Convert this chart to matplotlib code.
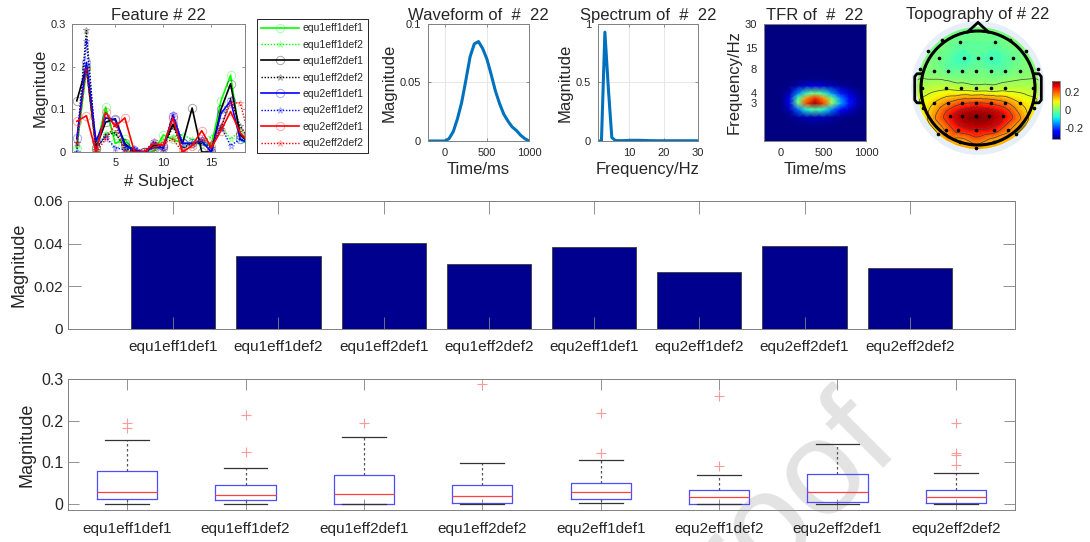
import numpy as np
import matplotlib
matplotlib.use("Agg")
import matplotlib.pyplot as plt
import matplotlib.tri as mtri
from matplotlib.patches import Circle
from matplotlib.cm import ScalarMappable
from matplotlib.colors import Normalize

plt.rcParams["font.family"] = ["Liberation Sans", "DejaVu Sans"]
plt.rcParams["text.color"] = "#262626"
plt.rcParams["axes.labelcolor"] = "#262626"
plt.rcParams["xtick.color"] = "#808080"
plt.rcParams["ytick.color"] = "#808080"
plt.rcParams["xtick.labelcolor"] = "#262626"
plt.rcParams["ytick.labelcolor"] = "#262626"
plt.rcParams["axes.edgecolor"] = "#808080"

W, H = 1090, 542

# ---- data -------------------------------------------------------------
conditions = ["equ1eff1def1", "equ1eff1def2", "equ1eff2def1", "equ1eff2def2",
              "equ2eff1def1", "equ2eff1def2", "equ2eff2def1", "equ2eff2def2"]

subjects = list(range(1, 20))
feat_e1f1d1 = [0.01, 0.195, 0.01, 0.105, 0.02, 0.03, 0.0, 0.0, 0.0, 0.04, 0.03, 0.02, 0.02, 0.02, 0.015, 0.12, 0.18, 0.03, 0.015]
feat_e1f1d2 = [0.01, 0.2, 0.005, 0.045, 0.045, 0.005, 0.0, 0.0, 0.01, 0.03, 0.035, 0.04, 0.03, 0.025, 0.035, 0.06, 0.03, 0.05, 0.02]
feat_e1f2d1 = [0.12, 0.2, 0.01, 0.07, 0.078, 0.02, 0.0, 0.0, 0.015, 0.015, 0.065, 0.02, 0.103, 0.0, 0.0, 0.1, 0.16, 0.04, 0.02]
feat_e1f2d2 = [0.02, 0.285, 0.005, 0.04, 0.045, 0.01, 0.0, 0.0, 0.02, 0.01, 0.06, 0.01, 0.02, 0.02, 0.01, 0.055, 0.125, 0.06, 0.03]
feat_e2f1d1 = [0.032, 0.21, 0.025, 0.08, 0.075, 0.015, 0.005, 0.0, 0.01, 0.01, 0.085, 0.02, 0.02, 0.025, 0.0, 0.09, 0.12, 0.03, 0.02]
feat_e2f1d2 = [0.0, 0.26, 0.01, 0.035, 0.01, 0.005, 0.01, 0.0, 0.025, 0.005, 0.09, 0.02, 0.02, 0.03, 0.01, 0.06, 0.015, 0.03, 0.02]
feat_e2f2d1 = [0.072, 0.085, 0.0, 0.093, 0.06, 0.08, 0.0, 0.0, 0.02, 0.015, 0.08, 0.0, 0.015, 0.05, 0.01, 0.05, 0.095, 0.045, 0.02]
feat_e2f2d2 = [0.02, 0.195, 0.0, 0.03, 0.065, 0.0, 0.0, 0.0, 0.01, 0.02, 0.03, 0.0, 0.015, 0.03, 0.02, 0.06, 0.115, 0.115, 0.03]

wave_t = [-200, -150, -100, -50, 0, 50, 100, 150, 200, 250, 300, 350, 400, 450, 500,
          550, 600, 650, 700, 750, 800, 850, 900, 950, 1000]
wave_v = [0, 0, 0, 0, 0, 0.002, 0.008, 0.019, 0.033, 0.052, 0.072, 0.083, 0.085, 0.079, 0.070,
          0.057, 0.043, 0.032, 0.023, 0.017, 0.012, 0.009, 0.005, 0.002, 0.0]

spec_f = list(range(1, 31))
spec_v = [0, 0, 0.93, 0.45, 0.03, 0.005, 0.003, 0.003, 0.004, 0.005, 0.006, 0.006, 0.006, 0.005, 0.004,
          0.003, 0.003, 0.002, 0.002, 0.002, 0.002, 0.002, 0.002, 0.002, 0.002, 0.002, 0.002, 0.002, 0.002, 0.002]

tfr_times = [-200, -100, 0, 100, 200, 300, 400, 500, 600, 700, 800, 900, 1000]
tfr_time_profile = [0, 0, 0.0, 0.1, 0.5, 0.86, 1.0, 0.86, 0.55, 0.3, 0.15, 0.05, 0.0]
tfr_freqs = [1, 1.5, 2, 2.5, 3, 3.5, 4, 5, 6, 8, 15, 30]
tfr_freq_profile = [0, 0, 0.05, 0.45, 0.98, 0.87, 0.5, 0.08, 0.01, 0, 0, 0]

# electrode positions (head radius = 1, nose up) and values
elec_x = [-0.64, 0.57, -0.32, 0.30,
          -0.68, -0.24, 0.0, 0.22, 0.62,
          -0.77, -0.53, -0.28, -0.03, 0.22, 0.47, 0.73,
          -0.98, -0.56, -0.29, -0.03, 0.22, 0.47, 0.96,
          -0.77, -0.53, -0.28, -0.03, 0.22, 0.47, 0.73,
          -0.50, -0.28, -0.03, 0.19, 0.44,
          -0.56, -0.35, -0.03, 0.28, 0.53,
          -0.32, 0.28,
          -1.02, 1.05, -0.96, 0.98, -0.70, 0.67, -0.03, -0.87, 0.85]
elec_y = [0.84, 0.84, 0.80, 0.80,
          0.53, 0.53, 0.53, 0.53, 0.53,
          0.30, 0.30, 0.30, 0.30, 0.30, 0.30, 0.30,
          0.0, 0.0, 0.0, 0.0, 0.0, 0.0, 0.0,
          -0.26, -0.26, -0.26, -0.26, -0.26, -0.26, -0.26,
          -0.49, -0.49, -0.49, -0.49, -0.49,
          -0.73, -0.73, -0.73, -0.73, -0.73,
          -0.94, -0.94,
          0.33, 0.33, -0.35, -0.35, -0.81, -0.81, -1.06, 0.65, 0.65]
elec_v = [0.0, 0.0, -0.02, -0.02,
          -0.01, -0.05, -0.03, -0.05, -0.02,
          0.0, -0.02, -0.02, -0.01, -0.02, -0.02, 0.0,
          0.04, 0.06, 0.05, 0.04, 0.04, 0.05, 0.04,
          0.12, 0.17, 0.21, 0.22, 0.21, 0.18, 0.12,
          0.25, 0.30, 0.32, 0.31, 0.27,
          0.18, 0.24, 0.27, 0.25, 0.18,
          0.14, 0.14,
          0.01, 0.01, 0.10, 0.10, 0.12, 0.12, 0.15, 0.0, 0.0]
# support points on the rim of the interpolated disc
rim_angle = [90, 60, 30, 0, -30, -60, -90, -120, -150, 180, 150, 120]
rim_v = [0.0, 0.0, 0.01, 0.03, 0.10, 0.14, 0.15, 0.14, 0.10, 0.03, 0.01, 0.0]

bar_vals = [0.0482, 0.0341, 0.0402, 0.0303, 0.0386, 0.0266, 0.0390, 0.0286]

box_q1 = [0.011, 0.008, 0.0, 0.001, 0.012, 0.0, 0.005, 0.001]
box_med = [0.029, 0.020, 0.024, 0.018, 0.028, 0.017, 0.029, 0.016]
box_q3 = [0.078, 0.046, 0.068, 0.046, 0.049, 0.033, 0.072, 0.033]
box_lo = [0.0, 0.0, 0.0, 0.0, 0.001, 0.0, 0.0, 0.0]
box_hi = [0.154, 0.086, 0.161, 0.099, 0.105, 0.070, 0.144, 0.074]
box_out = [[0.195, 0.182], [0.213, 0.125], [0.195], [0.288],
           [0.218, 0.122], [0.26, 0.090], [], [0.195, 0.122, 0.117, 0.094]]


def px_axes(l, t, r, b):
    return fig.add_axes([l / W, 1 - b / H, (r - l) / W, (b - t) / H])


def matlab_ticks(ax, size, length, pad=3.5):
    ax.tick_params(direction="in", top=True, right=True, labelsize=size,
                   length=length, width=0.6, pad=pad)
    for s in ax.spines.values():
        s.set_linewidth(0.7)


fig = plt.figure(figsize=(W / 100, H / 100), dpi=100)

# ---- feature lines ----------------------------------------------------
ax1 = px_axes(72, 24, 245, 152)
series = [feat_e1f1d1, feat_e1f1d2, feat_e1f2d1, feat_e1f2d2,
          feat_e2f1d1, feat_e2f1d2, feat_e2f2d1, feat_e2f2d2]
colors = [(0, 1, 0), (0, 1, 0), (0, 0, 0), (0, 0, 0),
          (0, 0, 1), (0, 0, 1), (1, 0, 0), (1, 0, 0)]
for i, (name, vals, c) in enumerate(zip(conditions, series, colors)):
    solid = i % 2 == 0
    ax1.plot(subjects, vals, color=c, ls="-" if solid else (0, (1, 1.2)),
             lw=1.2 if solid else 1.0, marker="o" if solid else "*",
             ms=6 if solid else 5, mfc="none", mec=(*c, 0.35), mew=0.7, label=name)
ax1.set_xlim(0.5, 18.5)
ax1.set_ylim(0, 0.3)
ax1.set_xticks([5, 10, 15])
ax1.set_yticks([0, 0.1, 0.2, 0.3])
ax1.set_yticklabels(["0", "0.1", "0.2", "0.3"])
matlab_ticks(ax1, 8, 2, pad=4.5)
ax1.set_title("Feature # 22", fontsize=12, pad=3)
ax1.set_xlabel("# Subject", fontsize=12, labelpad=4)
ax1.set_ylabel("Magnitude", fontsize=12, labelpad=2)
ax1.legend(loc="upper left", bbox_to_anchor=(257 / W, 1 - 19 / H),
           bbox_transform=fig.transFigure, fontsize=7.5, fancybox=False,
           edgecolor="black", framealpha=1, handlelength=3.6, borderpad=0.4,
           labelspacing=0.62, handletextpad=0.4, borderaxespad=0)
ax1.get_legend().get_frame().set_linewidth(0.6)

# ---- waveform ---------------------------------------------------------
ax2 = px_axes(428, 24, 529, 141)
ax2.plot(wave_t, wave_v, color="#0072BD", lw=2.2)
ax2.set_xlim(-200, 1000)
ax2.set_ylim(0, 0.1)
ax2.set_xticks([0, 500, 1000])
ax2.set_yticks([0, 0.05, 0.1])
ax2.set_yticklabels(["0", "0.05", "0.1"])
ax2.grid(True, color="#e3e3e3", lw=0.6)
ax2.set_axisbelow(True)
matlab_ticks(ax2, 8, 2, pad=5)
ax2.set_title("Waveform of  #  22", fontsize=12, pad=3)
ax2.set_xlabel("Time/ms", fontsize=12, labelpad=3)
ax2.set_ylabel("Magnitude", fontsize=12, labelpad=2)

# ---- spectrum ---------------------------------------------------------
ax3 = px_axes(598, 24, 698, 141)
ax3.plot(spec_f, spec_v, color="#0072BD", lw=2.2)
ax3.set_xlim(1, 30)
ax3.set_ylim(0, 1)
ax3.set_xticks([10, 20, 30])
ax3.set_yticks([0, 0.5, 1])
ax3.set_yticklabels(["0", "0.5", "1"])
ax3.grid(True, color="#e3e3e3", lw=0.6)
ax3.set_axisbelow(True)
matlab_ticks(ax3, 8, 2, pad=5)
ax3.set_title("Spectrum of  #  22", fontsize=12, pad=3)
ax3.set_xlabel("Frequency/Hz", fontsize=12, labelpad=3)
ax3.set_ylabel("Magnitude", fontsize=12, labelpad=2)

# ---- time-frequency ---------------------------------------------------
ax4 = px_axes(764, 24, 866, 141)
tfr = np.outer(tfr_freq_profile, tfr_time_profile)
ax4.pcolormesh(tfr_times, tfr_freqs, tfr, shading="gouraud", cmap="jet", vmin=0, vmax=1)
ax4.set_yscale("log")
ax4.set_xlim(-200, 1000)
ax4.set_ylim(1, 30)
ax4.set_xticks([0, 500, 1000])
ax4.set_yticks([3, 4, 8, 15, 30])
ax4.set_yticklabels(["3", "4", "8", "15", "30"])
ax4.yaxis.set_minor_locator(matplotlib.ticker.NullLocator())
matlab_ticks(ax4, 8, 0, pad=5)
ax4.set_title("TFR of  #  22", fontsize=12, pad=3)
ax4.set_xlabel("Time/ms", fontsize=12, labelpad=3)
ax4.set_ylabel("Frequency/Hz", fontsize=12, labelpad=2)

# ---- topography -------------------------------------------------------
ax5 = px_axes(903, 13, 1053, 163)
lim = 75 / 57
ax5.set_xlim(-lim, lim)
ax5.set_ylim(-lim, lim)
ax5.set_aspect("equal")
ax5.axis("off")
rim_r = 1.1
px = np.concatenate([elec_x, rim_r * np.cos(np.radians(rim_angle))])
py = np.concatenate([elec_y, rim_r * np.sin(np.radians(rim_angle))])
pv = np.concatenate([elec_v, rim_v])
tri = mtri.Triangulation(px, py)
refiner = mtri.UniformTriRefiner(tri)
interp = mtri.CubicTriInterpolator(tri, pv, kind="geom")
tri_f, v_f = refiner.refine_field(pv, triinterpolator=interp, subdiv=4)
topo_lim = 0.33
ax5.add_patch(Circle((0, 0), 1.16, color="#e6eef8", zorder=0))
cf = ax5.tricontourf(tri_f, v_f, levels=np.linspace(-0.5, 0.5, 101), cmap="jet",
                     norm=Normalize(-topo_lim, topo_lim), zorder=1)
cf.set_clip_path(Circle((0, 0), 1.07, transform=ax5.transData))
cl = ax5.tricontour(tri_f, v_f, levels=[0.02, 0.07, 0.12, 0.17, 0.22, 0.27],
                    colors="#404040", linewidths=0.5, zorder=2)
cl.set_clip_path(Circle((0, 0), 1.07, transform=ax5.transData))
ax5.plot(elec_x, elec_y, ls="none", marker="o", ms=1.6, color="black", zorder=3)
ax5.add_patch(Circle((0, 0), 1.0, fill=False, ec="black", lw=2.2, zorder=4))
nose_x = [-0.18, 0.0, 0.18]
nose_y = [0.985, 1.15, 0.985]
ax5.plot(nose_x, nose_y, color="black", lw=2, zorder=4, solid_joinstyle="miter")
ear_x = [0.995, 1.07, 1.11, 1.11, 1.07, 0.995]
ear_y = [0.25, 0.25, 0.2, -0.21, -0.26, -0.26]
ax5.plot(ear_x, ear_y, color="black", lw=2, zorder=4)
ax5.plot([-v for v in ear_x], ear_y, color="black", lw=2, zorder=4)
fig.text(978 / W, 1 - 14 / H, "Topography of # 22", ha="center", va="center", fontsize=12)

cax = px_axes(1052, 81, 1060, 139)
cb = fig.colorbar(ScalarMappable(Normalize(-topo_lim, topo_lim), cmap="jet"), cax=cax,
                  ticks=[-0.2, 0, 0.2])
cb.ax.set_yticklabels(["-0.2", "0", "0.2"])
cb.ax.tick_params(labelsize=8, length=0)
cb.outline.set_edgecolor("#808080")
cb.outline.set_linewidth(0.6)

# ---- mean bars --------------------------------------------------------
pos = np.arange(1, 9)
ax6 = px_axes(68, 201, 1015, 329)
ax6.bar(pos, bar_vals, width=0.8, color="#00008f", edgecolor="#3a3a3a", lw=0.6, zorder=1)
ax6.set_xlim(0, 9)
ax6.set_ylim(0, 0.06)
ax6.set_xticks(pos)
ax6.set_xticklabels(conditions)
ax6.set_yticks([0, 0.02, 0.04, 0.06])
ax6.set_yticklabels(["0", "0.02", "0.04", "0.06"])
matlab_ticks(ax6, 11, 9)
ax6.tick_params(axis="x", labelsize=11, pad=8)
ax6.set_ylabel("Magnitude", fontsize=13)

# ---- box plots --------------------------------------------------------
ax7 = px_axes(68, 379, 1015, 510)
ax7.patch.set_alpha(0)
stats = [dict(q1=q1, med=m, q3=q3, whislo=lo, whishi=hi, fliers=o)
         for q1, m, q3, lo, hi, o in zip(box_q1, box_med, box_q3, box_lo, box_hi, box_out)]
ax7.bxp(stats, positions=pos, widths=0.51, capwidths=0.37, showfliers=True,
        boxprops=dict(color="#4d4dff", lw=0.9),
        medianprops=dict(color="#ff4040", lw=0.9),
        whiskerprops=dict(color="#555555", lw=0.9, ls=(0, (2, 2))),
        capprops=dict(color="#333333", lw=0.9),
        flierprops=dict(marker="+", ms=7, mec="#ff9a9a", mew=0.8))
ax7.set_xlim(0.5, 8.5)
ax7.set_ylim(-0.015, 0.3)
ax7.set_xticks(pos)
ax7.set_xticklabels(conditions)
ax7.set_yticks([0, 0.1, 0.2, 0.3])
ax7.set_yticklabels(["0", "0.1", "0.2", "0.3"])
matlab_ticks(ax7, 11.5, 8)
ax7.tick_params(axis="x", labelsize=11, pad=9)
ax7.set_ylabel("Magnitude", fontsize=13)

# watermark
fig.text(671 / W, 1 - 669 / H, "Proof", rotation=45, rotation_mode="anchor",
         ha="left", va="baseline", fontsize=97, color="#e3e3e3", zorder=-1)

fig.savefig("out.png", dpi=100)
